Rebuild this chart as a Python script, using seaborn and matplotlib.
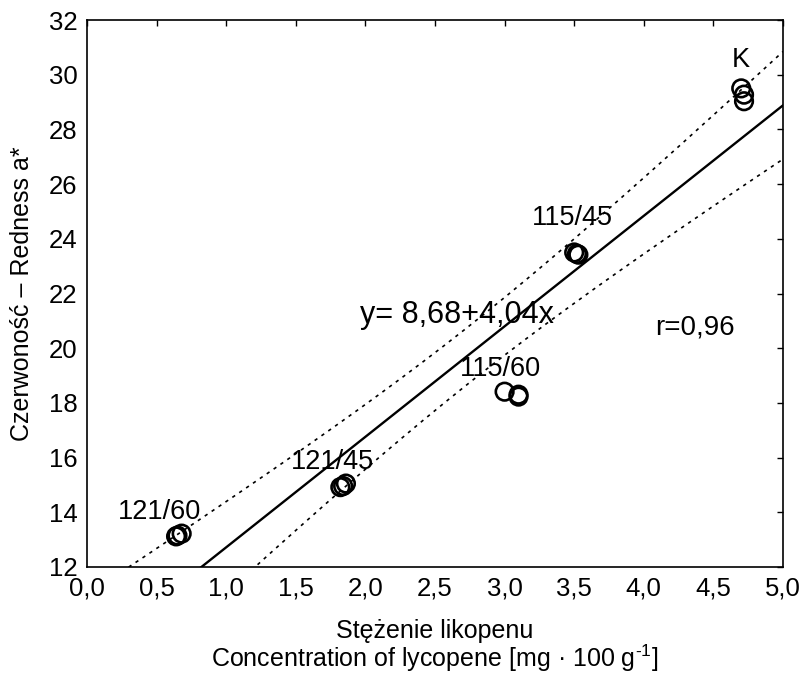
import numpy as np
import pandas as pd
import matplotlib
matplotlib.use("Agg")
import matplotlib.pyplot as plt
import seaborn as sns
from matplotlib.ticker import FuncFormatter

# lycopene concentration vs redness a*, three replicates per sample
samples = ["121/60"] * 3 + ["121/45"] * 3 + ["115/60"] * 3 + ["115/45"] * 3 + ["K"] * 3
lycopene = [0.64, 0.65, 0.68,
            1.82, 1.84, 1.86,
            3.00, 3.10, 3.10,
            3.50, 3.52, 3.53,
            4.70, 4.72, 4.72]
redness = [13.12, 13.15, 13.22,
           14.92, 14.96, 15.05,
           18.41, 18.23, 18.30,
           23.50, 23.45, 23.42,
           29.50, 29.27, 29.03]

# regression from the chart label
intercept, slope = 8.68, 4.04
t_crit = 2.16  # t(0.975, df=13)

label_text = ["121/60", "121/45", "115/60", "115/45", "K"]
label_x = [0.52, 1.76, 2.97, 3.49, 4.70]
label_y = [14.0, 15.84, 19.24, 24.76, 30.54]

df = pd.DataFrame({"sample": samples, "x": lycopene, "y": redness})

sns.set_theme(style="white")
plt.rcParams["font.family"] = ["Liberation Sans", "DejaVu Sans"]
plt.rcParams["mathtext.fontset"] = "custom"
plt.rcParams["mathtext.rm"] = "Liberation Sans"
for k in ["text.color", "axes.labelcolor", "xtick.color", "ytick.color"]:
    plt.rcParams[k] = "black"

fig, ax = plt.subplots(figsize=(8.02, 6.76), dpi=100)
fig.subplots_adjust(left=87 / 802, right=783 / 802, top=1 - 20 / 676, bottom=1 - 567 / 676)

# fitted line and 95% confidence band of the mean
xs = np.linspace(0, 5, 200)
yhat = intercept + slope * xs
resid = df["y"] - (intercept + slope * df["x"])
n = len(df)
s = np.sqrt((resid ** 2).sum() / (n - 2))
sxx = ((df["x"] - df["x"].mean()) ** 2).sum()
half = t_crit * s * np.sqrt(1 / n + (xs - df["x"].mean()) ** 2 / sxx)

sns.lineplot(x=xs, y=yhat, ax=ax, color="black", lw=1.7)
sns.lineplot(x=xs, y=yhat + half, ax=ax, color="black", lw=1.2, linestyle=(0, (2, 3)))
sns.lineplot(x=xs, y=yhat - half, ax=ax, color="black", lw=1.2, linestyle=(0, (2, 3)))

sns.scatterplot(data=df, x="x", y="y", ax=ax, s=160, facecolors="none",
                edgecolor="black", linewidth=1.9, marker="o", zorder=3)

for t, lx, ly in zip(label_text, label_x, label_y):
    ax.text(lx, ly, t, ha="center", va="center", fontsize=19.5)

ax.text(1.96, 20.92, "y= 8,68+4,04x", ha="left", va="baseline", fontsize=22)
ax.text(4.37, 20.74, "r=0,96", ha="center", va="center", fontsize=20)

ax.set_xlim(0, 5)
ax.set_ylim(12, 32)
ax.set_xticks(np.arange(0, 5.01, 0.5))
ax.set_yticks(np.arange(12, 32.1, 2))
ax.xaxis.set_major_formatter(FuncFormatter(lambda v, p: f"{v:.1f}".replace(".", ",")))
ax.yaxis.set_major_formatter(FuncFormatter(lambda v, p: f"{v:.0f}"))
ax.tick_params(direction="in", length=4, width=1, labelsize=18.5,
               top=True, right=True, pad=7)
for sp in ax.spines.values():
    sp.set_color("black")
    sp.set_linewidth(1.2)

ax.set_xlabel("Stężenie likopenu\nConcentration of lycopene [mg · 100 g$^{\\text{-1}}$]",
              fontsize=18, linespacing=1.0, va="top")
ax.xaxis.set_label_coords(0.5, -(619 - 567) / 547)
ax.set_ylabel("Czerwoność – Redness a*", fontsize=18, va="center")
ax.yaxis.set_label_coords(-(87 - 22) / 696, 0.5)

fig.savefig("out.png", dpi=100)
